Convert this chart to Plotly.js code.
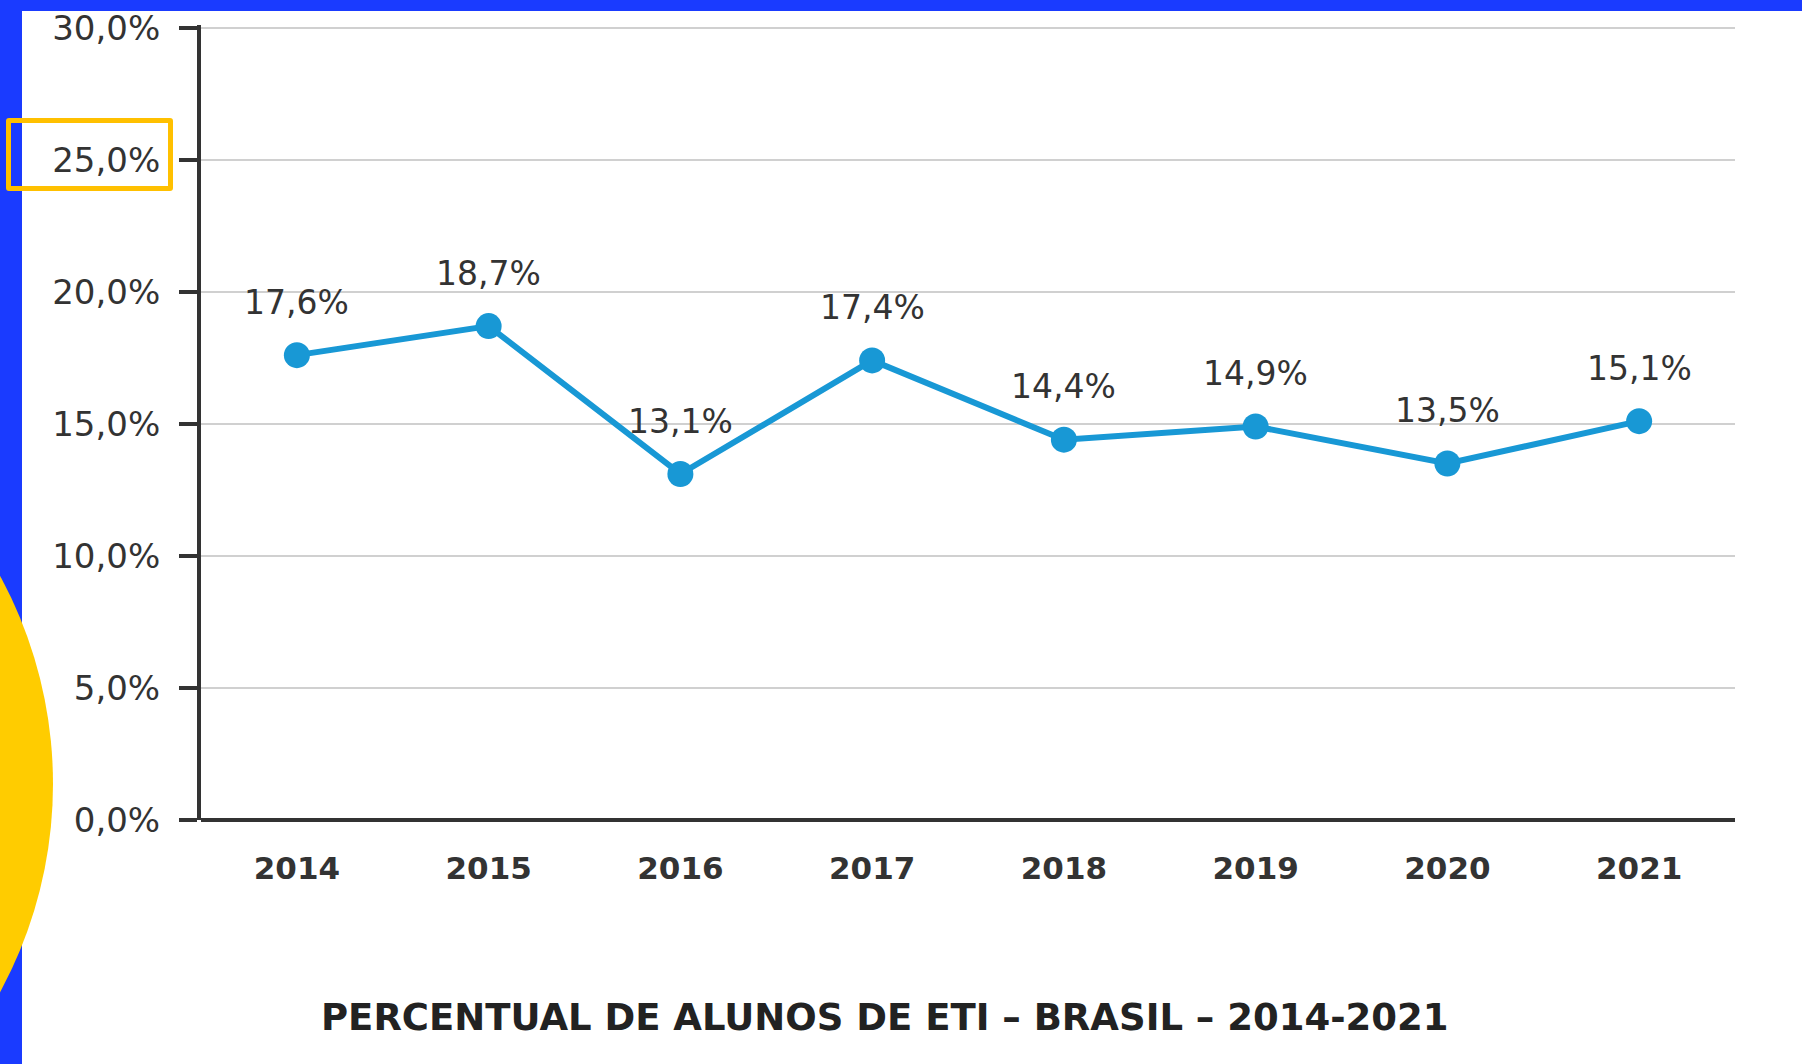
<!DOCTYPE html>
<html>
<head>
<meta charset="utf-8">
<script src="https://cdn.plot.ly/plotly-3.0.1.min.js"></script>
<style>
  html, body { margin: 0; padding: 0; width: 1802px; height: 1064px; overflow: hidden; background: #1a3bff; }
  #white { position: absolute; left: 22px; top: 11px; right: 0; bottom: 0; background: #ffffff; }
  #circle { position: absolute; left: -819px; top: 348px; width: 872px; height: 872px; border-radius: 50%; background: #ffcc00; }
  #chart { position: absolute; left: 0; top: 0; width: 1802px; height: 1064px; }
  #hl { position: absolute; left: 6px; top: 118px; width: 167px; height: 73px; box-sizing: border-box; border: 5px solid #ffc000; border-radius: 3px; }
</style>
</head>
<body>
<div id="white"></div>
<div id="circle"></div>
<div id="chart"></div>
<div id="hl"></div>
<script>
const years = ['2014', '2015', '2016', '2017', '2018', '2019', '2020', '2021'];
const percentValues = [17.6, 18.7, 13.1, 17.4, 14.4, 14.9, 13.5, 15.1];
const valueLabels = ['17,6%', '18,7%', '13,1%', '17,4%', '14,4%', '14,9%', '13,5%', '15,1%'];
const yTickValues = [0, 5, 10, 15, 20, 25, 30];
const yTickLabels = ['0,0%', '5,0%', '10,0%', '15,0%', '20,0%', '25,0%', '30,0%'];
const chartTitle = 'PERCENTUAL DE ALUNOS DE ETI – BRASIL – 2014-2021';

const lineColor = '#1898d5';
const textColor = '#333333';
const baseFont = 'DejaVu Sans, Verdana, sans-serif';

const trace = {
  x: years,
  y: percentValues,
  type: 'scatter',
  mode: 'lines+markers',
  line: { color: lineColor, width: 6 },
  marker: { color: lineColor, size: 26 },
  hoverinfo: 'skip',
  cliponaxis: false
};

const annotations = years.map((yr, i) => ({
  x: i, y: percentValues[i], xref: 'x', yref: 'y',
  text: valueLabels[i], showarrow: false, yshift: 53,
  font: { family: baseFont, size: 33, color: textColor }
}));

const layout = {
  width: 1802, height: 1064,
  margin: { l: 201, r: 67, t: 25, b: 244 },
  paper_bgcolor: 'rgba(0,0,0,0)',
  plot_bgcolor: 'rgba(0,0,0,0)',
  showlegend: false,
  title: {
    text: '<b>' + chartTitle + '</b>',
    xref: 'container', yref: 'container',
    x: 0.491, y: 0.044, xanchor: 'center', yanchor: 'middle',
    font: { family: 'DejaVu Sans, sans-serif', size: 37, color: '#222222' }
  },
  xaxis: {
    type: 'category',
    range: [-0.5, 7.5],
    showgrid: false,
    showline: false,
    zeroline: false,
    ticks: '',
    ticklabelstandoff: 27,
    tickfont: { family: baseFont, size: 31, color: textColor, weight: 'bold' },
    fixedrange: true
  },
  yaxis: {
    range: [0, 30.1],
    tickvals: yTickValues,
    ticktext: yTickLabels,
    showgrid: true,
    gridcolor: '#d0d0d0',
    gridwidth: 2,
    showline: true,
    linecolor: '#333333',
    linewidth: 4,
    zeroline: true,
    zerolinecolor: '#333333',
    zerolinewidth: 4,
    ticks: 'outside',
    ticklen: 18,
    tickwidth: 4,
    tickcolor: '#333333',
    ticklabelstandoff: 12,
    tickfont: { family: baseFont, size: 34, color: textColor },
    fixedrange: true
  },
  annotations: annotations
};

Plotly.newPlot('chart', [trace], layout, { displayModeBar: false, staticPlot: true });
</script>
</body>
</html>
